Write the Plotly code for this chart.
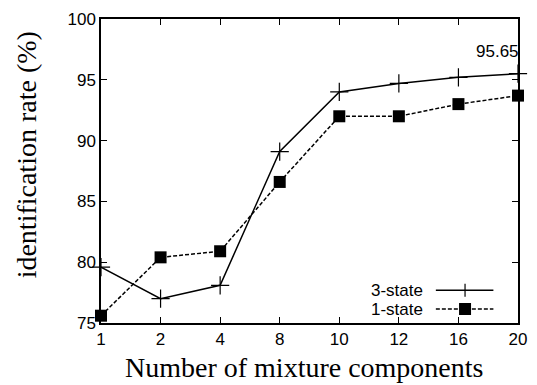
import plotly.graph_objects as go

categories = ["1", "2", "4", "8", "10", "12", "16", "20"]
three_state = [79.6, 77.0, 78.1, 89.1, 94.0, 94.7, 95.2, 95.5]
one_state = [75.6, 80.4, 80.9, 86.6, 92.0, 92.0, 93.0, 93.7]
y_ticks = [75, 80, 85, 90, 95, 100]
peak_label = "95.65"

xi = list(range(len(categories)))

fig = go.Figure()
fig.add_trace(go.Scatter(
    x=xi, y=three_state, mode="lines+markers", name="3-state",
    line=dict(color="black", width=1.5),
    marker=dict(symbol="cross-thin", size=13, line=dict(color="black", width=1.2)),
    showlegend=False, cliponaxis=False,
))
fig.add_trace(go.Scatter(
    x=xi, y=one_state, mode="lines+markers", name="1-state",
    line=dict(color="black", width=1.5, dash="4px,2px"),
    marker=dict(symbol="square", size=12, color="black"),
    showlegend=False, cliponaxis=False,
))

tickfont = dict(family="Liberation Sans, Arial, sans-serif", size=17, color="black")
fig.update_xaxes(
    range=[0, 7], tickmode="array", tickvals=xi, ticktext=categories,
    ticks="inside", ticklen=6, tickwidth=1.2, tickcolor="black",
    showline=True, linecolor="black", linewidth=1.5, mirror="ticks",
    showgrid=False, zeroline=False, tickfont=tickfont,
)
fig.update_yaxes(
    range=[75, 100], tickmode="array", tickvals=y_ticks,
    ticks="inside", ticklen=6, tickwidth=1.2, tickcolor="black",
    showline=True, linecolor="black", linewidth=1.5, mirror="ticks",
    showgrid=False, zeroline=False, tickfont=tickfont,
)

serif = dict(family="Liberation Serif, Times New Roman, serif", size=28, color="black")
anns = [
    dict(text="Number of mixture components", xref="paper", yref="paper",
         x=0.488, y=-0.1475, xanchor="center", yanchor="middle", showarrow=False, font=serif),
    dict(text="identification rate (%)", xref="paper", yref="paper",
         x=-0.178, y=0.554, xanchor="center", yanchor="middle", textangle=-90,
         showarrow=False, font=serif),
    dict(text=peak_label, xref="x", yref="y", x=7, y=97.3, xanchor="right",
         yanchor="middle", xshift=3, showarrow=False, font=tickfont),
    dict(text="3-state", xref="paper", yref="paper", x=0.777, y=0.108,
         xanchor="right", yanchor="middle", showarrow=False, font=tickfont),
    dict(text="1-state", xref="paper", yref="paper", x=0.777, y=0.046,
         xanchor="right", yanchor="middle", showarrow=False, font=tickfont),
]

shapes = [
    dict(type="line", xref="paper", yref="paper", x0=0.803, x1=0.941, y0=0.108, y1=0.108,
         line=dict(color="black", width=1.5)),
    dict(type="line", xref="paper", yref="paper", xsizemode="pixel", ysizemode="pixel",
         xanchor=0.873, yanchor=0.108, x0=0, x1=0, y0=-6.5, y1=6.5,
         line=dict(color="black", width=1.2)),
    dict(type="line", xref="paper", yref="paper", x0=0.803, x1=0.941, y0=0.046, y1=0.046,
         line=dict(color="black", width=1.5, dash="4px,2px")),
    dict(type="rect", xref="paper", yref="paper", xsizemode="pixel", ysizemode="pixel",
         xanchor=0.873, yanchor=0.046, x0=-6, x1=6, y0=-6, y1=6,
         fillcolor="black", line=dict(color="black", width=0)),
]

fig.update_layout(
    width=537, height=385,
    margin=dict(l=101, r=10, t=18, b=62),
    paper_bgcolor="white", plot_bgcolor="white",
    annotations=anns, shapes=shapes,
)

fig.write_html("out.html")
